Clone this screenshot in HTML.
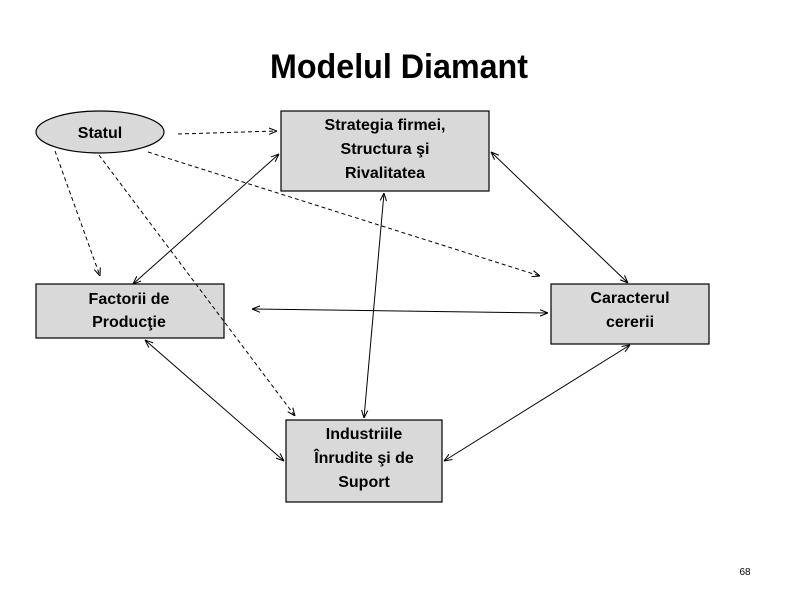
<!DOCTYPE html>
<html><head><meta charset="utf-8"><style>
html,body{margin:0;padding:0;background:#fff;}
svg{display:block;}
text{font-family:"Liberation Sans",sans-serif;font-weight:bold;fill:#000;}
</style></head><body>
<svg width="800" height="600" viewBox="0 0 800 600" xmlns="http://www.w3.org/2000/svg">
<defs>
<marker id="a" viewBox="0 0 10 10" refX="10" refY="5" markerWidth="8" markerHeight="8" orient="auto-start-reverse" markerUnits="userSpaceOnUse">
<path d="M0,1 L10,5 L0,9" fill="none" stroke="#000" stroke-width="1.3"/>
</marker>
</defs>
<text x="399" y="78" font-size="34" text-anchor="middle" textLength="258" lengthAdjust="spacingAndGlyphs">Modelul Diamant</text>

<g fill="#d9d9d9" stroke="#000" stroke-width="1.2">
<ellipse cx="100" cy="132" rx="64" ry="21"/>
<rect x="281" y="111" width="208" height="80"/>
<rect x="36" y="284" width="188" height="54"/>
<rect x="551" y="284" width="158" height="60"/>
<rect x="286" y="420" width="156" height="82"/>
</g>

<g stroke="#000" stroke-width="1" stroke-dasharray="4,3" fill="none">
<line x1="178" y1="134" x2="277" y2="131" marker-end="url(#a)"/>
<line x1="148" y1="152" x2="540" y2="276" marker-end="url(#a)"/>
<line x1="55" y1="151" x2="100" y2="276" marker-end="url(#a)"/>
<line x1="99" y1="155" x2="295" y2="416" marker-end="url(#a)"/>
</g>
<g stroke="#000" stroke-width="1" fill="none">
<line x1="133" y1="284" x2="279" y2="154" marker-start="url(#a)" marker-end="url(#a)"/>
<line x1="252" y1="309" x2="548" y2="313" marker-start="url(#a)" marker-end="url(#a)"/>
<line x1="145" y1="340" x2="284" y2="461" marker-start="url(#a)" marker-end="url(#a)"/>
<line x1="491" y1="152" x2="628" y2="283" marker-start="url(#a)" marker-end="url(#a)"/>
<line x1="384" y1="193" x2="364" y2="418" marker-start="url(#a)" marker-end="url(#a)"/>
<line x1="630" y1="345" x2="444" y2="461" marker-start="url(#a)" marker-end="url(#a)"/>
</g>

<g font-size="16" text-anchor="middle">
<text x="100" y="138">Statul</text>
<text x="385" y="130">Strategia firmei,</text>
<text x="385" y="154">Structura şi</text>
<text x="385" y="178">Rivalitatea</text>
<text x="129" y="304">Factorii de</text>
<text x="129" y="327">Producţie</text>
<text x="630" y="303">Caracterul</text>
<text x="630" y="327">cererii</text>
<text x="364" y="439">Industriile</text>
<text x="364" y="463">Înrudite şi de</text>
<text x="364" y="487">Suport</text>
</g>
<text x="745" y="575" font-size="10" font-weight="normal" text-anchor="middle" style="font-weight:normal">68</text>
</svg>
</body></html>
